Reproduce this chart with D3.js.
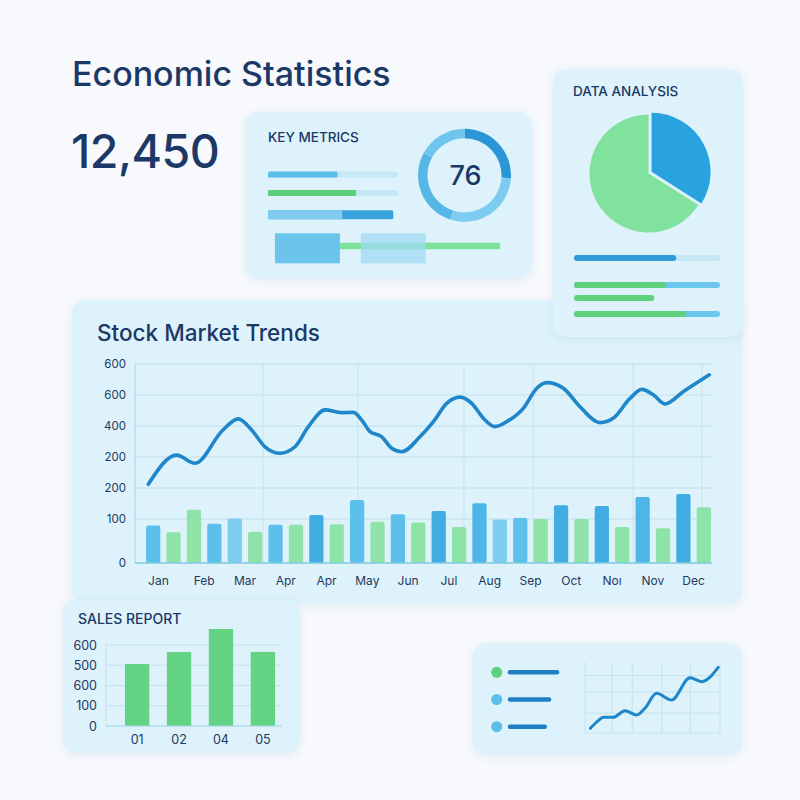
<!DOCTYPE html>
<html><head><meta charset="utf-8">
<script src="https://cdn.jsdelivr.net/npm/d3@7"></script>
<style>
html,body{margin:0;padding:0;background:#f7f9fc;}
svg{display:block;font-family:Inter,"Noto Sans",sans-serif;}
</style></head><body>
<svg id="c" width="800" height="800"></svg>
<script>
// ---------- DATA ----------
const pageTitle = "Economic Statistics";
const headline = "12,450";

const kmTitle = "KEY METRICS";
const kmGaugeLabel = "76";
const kmGaugeSegments = [26, 29, 28, 17];
const kmBar1 = [30, 56];          // fill, track
const kmBar2 = [38, 56];          // fill, track
const kmBar3 = [32, 54];          // light end, dark end
const kmBlockA = [3, 31];
const kmGreenLine = [31, 100];
const kmBlockB = [40, 68];

const daTitle = "DATA ANALYSIS";
const daPie = [34, 66];
const daBar1 = [70, 100];
const daBar2 = [63, 100];
const daBar3 = [55];
const daBar4 = [77, 100];

const stockTitle = "Stock Market Trends";
const stockMonths = ["Jan","Feb","Mar","Apr","Apr","May","Jun","Jul","Aug","Sep","Oct","Noı","Nov","Dec"];
const stockYTicks = [0, 100, 200, 300, 400, 500, 600];
const stockYTickLabels = ["0","100","200","200","400","600","600"];
const stockBarValues = [85, 70, 130, 89, 102, 71, 87, 87, 113, 88, 161, 94, 115, 92,
                        126, 82, 151, 99, 103, 100, 144, 100, 142, 82, 171, 79, 181, 138];
const stockBarKinds = ["b","g","g","b","l","g","b","g","d","g","b","g","b","g",
                       "d","g","m","l","b","g","d","g","d","g","m","g","d","g"];
const stockLineX = [-0.24,1.15,2.05,3.42,4.17,4.83,5.48,6.22,6.95,7.61,8.43,9.24,9.81,10.23,10.63,11.21,11.7,12.19,
                    13.08,13.74,14.39,15.05,15.62,16.19,16.76,17.34,18.15,18.81,19.3,20.11,20.93,21.91,22.56,23.38,
                    23.96,24.53,25.1,26.0,27.27];
const stockLineY = [212,306,280,387,423,387,333,312,333,398,452,443,444,419,382,365,328,317,
                    365,414,473,493,473,425,398,414,457,522,540,522,462,411,425,489,
                    518,500,471,511,565];
const stockVGrid = [5.39, 10.04, 15.24, 18.63, 23.53, 26.91];

const salesTitle = "SALES REPORT";
const salesCats = ["01","02","04","05"];
const salesValues = [306, 365, 479, 366];
const salesTicks = [0, 100, 200, 300, 400];
const salesTickLabels = ["0","100","600","500","600"];

const legendLengths = [100, 83, 74];
const legendKinds = ["g","b","b"];
const miniX = [4, 9, 13.6, 21, 29.6, 38.3, 44.4, 53, 64.2, 77.8, 86.4, 98.7];
const miniY = [6.6, 15.9, 22.1, 22.1, 31.4, 25.4, 34.8, 55.9, 46.5, 77.9, 72.3, 92.5];
const miniVGrid = [0, 20, 35, 57, 78, 100];
const miniHGrid = [28, 58, 81];

// ---------- STYLE ----------
const NAVY = "#1b3866";
const PANEL = "#ddf2fa";
const barColors = {b:"#5cc0ea", g:"#8ee4a8", l:"#7ccff0", d:"#42ade2", m:"#4db6e6"};

const svg = d3.select("#c");
const defs = svg.append("defs");
const f = defs.append("filter").attr("id","sh").attr("x","-10%").attr("y","-10%").attr("width","120%").attr("height","130%");
f.append("feDropShadow").attr("dx",0).attr("dy",2).attr("stdDeviation",4).attr("flood-color","#4a86a8").attr("flood-opacity",0.12);

svg.append("rect").attr("width",800).attr("height",800).attr("fill","#f7f9fc");

function panel(x,y,w,h){
  return svg.append("rect").attr("x",x).attr("y",y).attr("width",w).attr("height",h)
    .attr("rx",13).attr("fill",PANEL).attr("filter","url(#sh)");
}

// ---------- HEADER ----------
svg.append("text").attr("x",72).attr("y",86).attr("fill",NAVY).attr("font-size",34).attr("font-weight",500)
  .attr("letter-spacing",0).text(pageTitle);
svg.append("text").attr("x",71).attr("y",168).attr("fill",NAVY).attr("font-size",46.5).attr("font-weight",500)
  .attr("letter-spacing",-0.5).text(headline);

// ---------- KEY METRICS ----------
panel(245,112,287,166);
svg.append("text").attr("x",268).attr("y",142).attr("fill",NAVY).attr("font-size",13.5).attr("font-weight",500).text(kmTitle);
const kx = d3.scaleLinear().domain([0,100]).range([268,500]);
function hbar(sel, x0, x1, yc, h, color, r){
  sel.append("rect").attr("x",x0).attr("y",yc-h/2).attr("width",Math.max(0,x1-x0)).attr("height",h).attr("rx",r).attr("fill",color);
}
const kmG = svg.append("g");
hbar(kmG, kx(0), kx(kmBar1[1]), 174.5, 6, "#c6e7f5", 1.5);
hbar(kmG, kx(0), kx(kmBar1[0]), 174.5, 6, "#5bbde8", 1.5);
hbar(kmG, kx(0), kx(kmBar2[1]), 193, 6, "#c6e7f5", 1.5);
hbar(kmG, kx(0), kx(kmBar2[0]), 193, 6, "#5ccf7a", 1.5);
hbar(kmG, kx(0), kx(kmBar3[1]), 214.7, 9, "#3aa2dd", 1.5);
hbar(kmG, kx(0), kx(kmBar3[0]), 214.7, 9, "#80cbef", 1);
kmG.append("rect").attr("x",kx(kmBlockA[0])).attr("y",233.3).attr("width",kx(kmBlockA[1])-kx(kmBlockA[0])).attr("height",30).attr("fill","#6cc4ec");
hbar(kmG, kx(kmGreenLine[0]), kx(kmGreenLine[1]), 246, 6.5, "#7ee39a", 1.5);
kmG.append("rect").attr("x",kx(kmBlockB[0])).attr("y",233.3).attr("width",kx(kmBlockB[1])-kx(kmBlockB[0])).attr("height",30).attr("fill","#9fd9f3").attr("opacity",0.75);

// gauge
const gauge = svg.append("g").attr("transform","translate(464.5,175.3)");
const gArcs = d3.pie().sort(null)(kmGaugeSegments);
const gColors = ["#2b96d6","#7ccbf0","#56b6e7","#6ec6ee"];
gauge.selectAll("path").data(gArcs).join("path")
  .attr("d", d3.arc().innerRadius(37).outerRadius(46.5))
  .attr("fill",(d,i)=>gColors[i]);
gauge.append("text").attr("x",1).attr("y",10).attr("text-anchor","middle").attr("fill",NAVY)
  .attr("font-size",27).attr("font-weight",500).text(kmGaugeLabel);

// ---------- STOCK MARKET TRENDS ----------
panel(72,300,670,304);
svg.append("text").attr("x",97).attr("y",341).attr("fill",NAVY).attr("font-size",22.5).attr("font-weight",500)
  .attr("letter-spacing",0).text(stockTitle);

const sy = d3.scaleLinear().domain([0,100,600]).range([563,519,364]);
const sxb = d3.scaleBand().domain(d3.range(stockBarValues.length)).range([143,714]).paddingInner(0.3).paddingOuter(0.15);
const sxl = d3.scaleLinear().domain([0, stockBarValues.length-1])
  .range([sxb(0)+sxb.bandwidth()/2, sxb(stockBarValues.length-1)+sxb.bandwidth()/2]);

const st = svg.append("g");
st.selectAll("line.h").data(stockYTicks.slice(1)).join("line")
  .attr("x1",135).attr("x2",712).attr("y1",d=>sy(d)).attr("y2",d=>sy(d))
  .attr("stroke","#bfe0ee").attr("stroke-width",1);
st.selectAll("line.v").data(stockVGrid).join("line")
  .attr("x1",d=>sxl(d)).attr("x2",d=>sxl(d)).attr("y1",sy(600)).attr("y2",sy(0))
  .attr("stroke","#c6e4f0").attr("stroke-width",1);
st.append("line").attr("x1",135).attr("x2",135).attr("y1",sy(600)).attr("y2",sy(0)).attr("stroke","#a8d6e8");
st.selectAll("text.yl").data(stockYTicks).join("text")
  .attr("x",126).attr("y",d=>sy(d)+4).attr("text-anchor","end").attr("fill","#24395f")
  .attr("font-size",11.5).text((d,i)=>stockYTickLabels[i]);
st.selectAll("rect.bar").data(stockBarValues).join("rect")
  .attr("x",(d,i)=>sxb(i)).attr("width",sxb.bandwidth())
  .attr("y",d=>sy(d)).attr("height",d=>sy(0)-sy(d)).attr("rx",2)
  .attr("fill",(d,i)=>barColors[stockBarKinds[i]]);
st.append("line").attr("x1",135).attr("x2",712).attr("y1",sy(0)).attr("y2",sy(0)).attr("stroke","#7ec9df").attr("stroke-width",1.5);
st.selectAll("text.xl").data(stockMonths).join("text")
  .attr("x",(d,i)=>(sxb(2*i)+sxb(2*i+1)+sxb.bandwidth())/2 - (i===0?5:0)).attr("y",585)
  .attr("text-anchor","middle").attr("fill","#24395f").attr("font-size",12).text(d=>d);
const linePts = stockLineX.map((x,i)=>[x, stockLineY[i]]);
st.append("path").datum(linePts)
  .attr("d", d3.line().x(d=>sxl(d[0])).y(d=>sy(d[1])).curve(d3.curveMonotoneX))
  .attr("fill","none").attr("stroke","#1f87c9").attr("stroke-width",3.6).attr("stroke-linecap","round").attr("stroke-linejoin","round");

// ---------- DATA ANALYSIS ----------
panel(553,69,190,268);
svg.append("text").attr("x",573).attr("y",96).attr("fill",NAVY).attr("font-size",13.5).attr("font-weight",500).text(daTitle);
const pie = svg.append("g").attr("transform","translate(648.5,173.5)");
const pArcs = d3.pie().sort(null)(daPie);
const pColors = ["#29a3df","#80e29c"];
const pArc = d3.arc().innerRadius(0).outerRadius(59);
pie.selectAll("path").data(pArcs).join("path")
  .attr("d",pArc).attr("fill",(d,i)=>pColors[i])
  .attr("transform",(d,i)=>{
    if(i!==0) return null;
    const a=(d.startAngle+d.endAngle)/2; return `translate(${Math.sin(a)*3.5},${-Math.cos(a)*3.5})`;
  });
const dx = d3.scaleLinear().domain([0,100]).range([574,720]);
const daG = svg.append("g");
hbar(daG, dx(0), dx(daBar1[1]), 258, 6, "#c6e7f5", 3);
hbar(daG, dx(0), dx(daBar1[0]), 258, 6, "#2f9bd8", 3);
hbar(daG, dx(0), dx(daBar2[1]), 285, 6, "#6cc6ee", 3);
hbar(daG, dx(0), dx(daBar2[0]), 285, 6, "#5dd17c", 3);
hbar(daG, dx(0), dx(daBar3[0]), 298, 6, "#5dd17c", 3);
hbar(daG, dx(0), dx(daBar4[1]), 314, 6, "#6cc6ee", 3);
hbar(daG, dx(0), dx(daBar4[0]), 314, 6, "#5dd17c", 3);

// ---------- SALES REPORT ----------
panel(63,600,237,153);
svg.append("text").attr("x",78).attr("y",624).attr("fill",NAVY).attr("font-size",14).attr("font-weight",500).text(salesTitle);
const ry = d3.scaleLinear().domain([0,400]).range([726,645]);
const rx = d3.scaleBand().domain(salesCats).range([104,296]).paddingInner(0.42).paddingOuter(0.5);
const sr = svg.append("g");
sr.selectAll("line.g").data(salesTicks.slice(1)).join("line")
  .attr("x1",106).attr("x2",280).attr("y1",d=>ry(d)).attr("y2",d=>ry(d)).attr("stroke","#c3e2ef");
sr.append("line").attr("x1",106).attr("x2",106).attr("y1",ry(400)-2).attr("y2",ry(0)).attr("stroke","#c3e2ef");
sr.selectAll("text.y").data(salesTicks).join("text")
  .attr("x",97).attr("y",d=>ry(d)+4.5).attr("text-anchor","end").attr("fill","#24395f").attr("font-size",12.5)
  .text((d,i)=>salesTickLabels[i]);
sr.selectAll("rect").data(salesValues).join("rect")
  .attr("x",(d,i)=>rx(salesCats[i])).attr("width",rx.bandwidth())
  .attr("y",d=>ry(d)).attr("height",d=>ry(0)-ry(d)).attr("fill","#65d384");
sr.append("line").attr("x1",106).attr("x2",282).attr("y1",ry(0)).attr("y2",ry(0)).attr("stroke","#9fd3e6").attr("stroke-width",1.2);
sr.selectAll("text.x").data(salesCats).join("text")
  .attr("x",d=>rx(d)+rx.bandwidth()/2).attr("y",744).attr("text-anchor","middle").attr("fill","#24395f").attr("font-size",12.5).text(d=>d);

// ---------- BOTTOM RIGHT ----------
panel(473,643,269,112);
const lx = d3.scaleLinear().domain([0,100]).range([510,557]);
const dotColors = {g:"#5fd07e", b:"#5bbde8"};
const br = svg.append("g");
legendLengths.forEach((len,i)=>{
  const yc = 672.3 + i*27.2;
  br.append("circle").attr("cx",496.7).attr("cy",yc).attr("r",5.5).attr("fill",dotColors[legendKinds[i]]);
  br.append("line").attr("x1",lx(0)).attr("x2",lx(len)).attr("y1",yc).attr("y2",yc)
    .attr("stroke","#1f7fc2").attr("stroke-width",4.5).attr("stroke-linecap","round");
});
const mx = d3.scaleLinear().domain([0,100]).range([585,720]);
const my = d3.scaleLinear().domain([0,100]).range([733,662]);
br.selectAll("line.mv").data(miniVGrid).join("line")
  .attr("x1",d=>mx(d)).attr("x2",d=>mx(d)).attr("y1",my(100)).attr("y2",my(0)).attr("stroke","#c5e2ee");
br.selectAll("line.mh").data(miniHGrid.concat([0])).join("line")
  .attr("x1",mx(0)).attr("x2",mx(100)).attr("y1",d=>my(d)).attr("y2",d=>my(d)).attr("stroke","#c5e2ee");
br.append("path").datum(miniX.map((x,i)=>[x,miniY[i]]))
  .attr("d", d3.line().x(d=>mx(d[0])).y(d=>my(d[1])).curve(d3.curveMonotoneX))
  .attr("fill","none").attr("stroke","#1f87c9").attr("stroke-width",3).attr("stroke-linecap","round").attr("stroke-linejoin","round");
</script>
</body></html>
